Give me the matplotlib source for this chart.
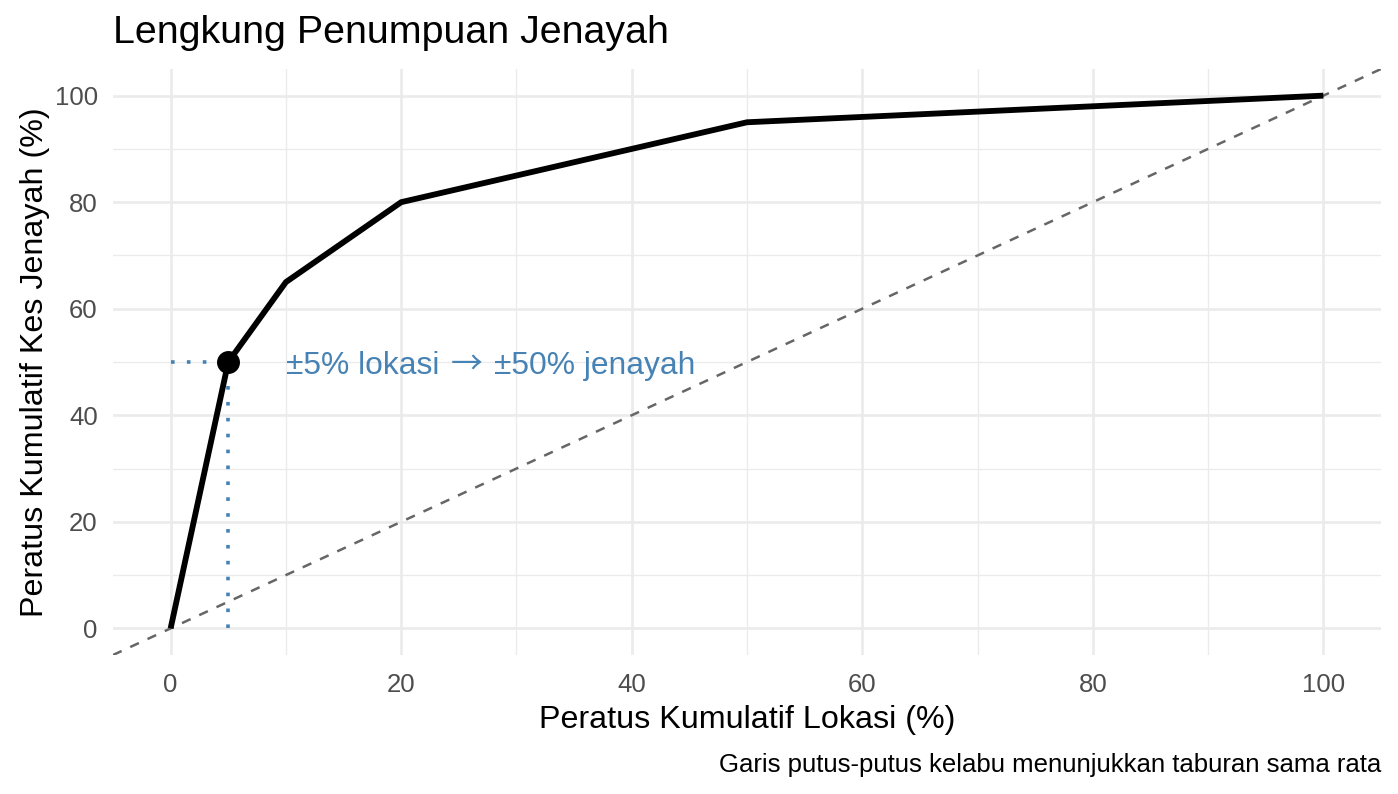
import matplotlib
matplotlib.use("Agg")
import matplotlib.pyplot as plt
from matplotlib.transforms import offset_copy

plt.rcParams['font.family'] = ['Liberation Sans', 'DejaVu Sans']

# Data
lokasi_pct = [0, 5, 10, 20, 50, 100]
jenayah_pct = [0, 50, 65, 80, 95, 100]
highlight_x = 5
highlight_y = 50
x_ticks = [0, 20, 40, 60, 80, 100]
y_ticks = [0, 20, 40, 60, 80, 100]
x_minor = [10, 30, 50, 70, 90]
y_minor = [10, 30, 50, 70, 90]

title = "Lengkung Penumpuan Jenayah"
xlabel = "Peratus Kumulatif Lokasi (%)"
ylabel = "Peratus Kumulatif Kes Jenayah (%)"
caption = "Garis putus-putus kelabu menunjukkan taburan sama rata"
annot_parts = ["±5% lokasi", "→", "±50% jenayah"]

W, H = 1398, 794
fig = plt.figure(figsize=(W / 100, H / 100), dpi=100)
fig.patch.set_facecolor('white')

L, R, T, B = 113, 1381, 69, 655
ax = fig.add_axes([L / W, 1 - B / H, (R - L) / W, (B - T) / H])
ax.set_xlim(-5, 105)
ax.set_ylim(-5, 105)

grid_col = '#EBEBEB'
for v in x_ticks:
    ax.axvline(v, color=grid_col, lw=1.9, zorder=0)
for v in y_ticks:
    ax.axhline(v, color=grid_col, lw=1.9, zorder=0)
for v in x_minor:
    ax.axvline(v, color=grid_col, lw=0.95, zorder=0)
for v in y_minor:
    ax.axhline(v, color=grid_col, lw=0.95, zorder=0)

# Equality line
ax.axline((0, 0), slope=1, color='#666666', lw=1.8, linestyle=(0, (3.8, 3.8)), zorder=1)

# Dotted guides
steel = '#4682B4'
ax.plot([0, highlight_x], [highlight_y, highlight_y], color=steel, lw=2.6,
        linestyle=(0, (1, 3.4)), dash_capstyle='butt', zorder=2)
ax.plot([highlight_x, highlight_x], [0, highlight_y], color=steel, lw=2.6,
        linestyle=(0, (1, 3.4)), dash_capstyle='butt', zorder=2)

# Curve
ax.plot(lokasi_pct, jenayah_pct, color='black', lw=4.2, solid_capstyle='butt',
        solid_joinstyle='miter', zorder=3)
ax.plot([highlight_x], [highlight_y], 'o', color='black', markersize=15.5, zorder=4)

# Annotation (arrow in a font with a long thin arrow)
afs = 22.9
dy = -12
gap1 = 11
gap2 = 12
base_tr = offset_copy(ax.transData, fig=fig, x=0, y=dy, units='dots')
t1 = ax.text(10, highlight_y, annot_parts[0], color=steel, fontsize=afs, ha='left',
             va='baseline', transform=base_tr, zorder=5)
fig.canvas.draw()
r = fig.canvas.get_renderer()
w1 = t1.get_window_extent(r).width
t2 = ax.text(10, highlight_y, annot_parts[1], color=steel, fontsize=afs, ha='left',
             va='baseline', family=['Noto Sans CJK SC', 'DejaVu Sans'],
             transform=offset_copy(ax.transData, fig=fig, x=w1 + gap1, y=dy, units='dots'),
             zorder=5)
fig.canvas.draw()
w2 = t2.get_window_extent(r).width
ax.text(10, highlight_y, annot_parts[2], color=steel, fontsize=afs, ha='left',
        va='baseline',
        transform=offset_copy(ax.transData, fig=fig, x=w1 + gap1 + w2 + gap2, y=dy, units='dots'),
        zorder=5)

for s in ax.spines.values():
    s.set_visible(False)
ax.set_xticks(x_ticks)
ax.set_yticks(y_ticks)
ax.tick_params(length=0, labelsize=18.5, labelcolor='#4D4D4D')
ax.tick_params(axis='x', pad=13)
ax.tick_params(axis='y', pad=11)

ax.set_xlabel(xlabel, fontsize=23.2, color='black', labelpad=6)
ax.set_ylabel(ylabel, fontsize=23.2, color='black', labelpad=3.5)

fig.text(L / W, 1 - 33 / H, title, fontsize=28.4, ha='left', va='center', color='black')
fig.text(R / W, 1 - 765 / H, caption, fontsize=18.5, ha='right', va='center', color='black')

fig.savefig('out.png', dpi=100, facecolor='white')
